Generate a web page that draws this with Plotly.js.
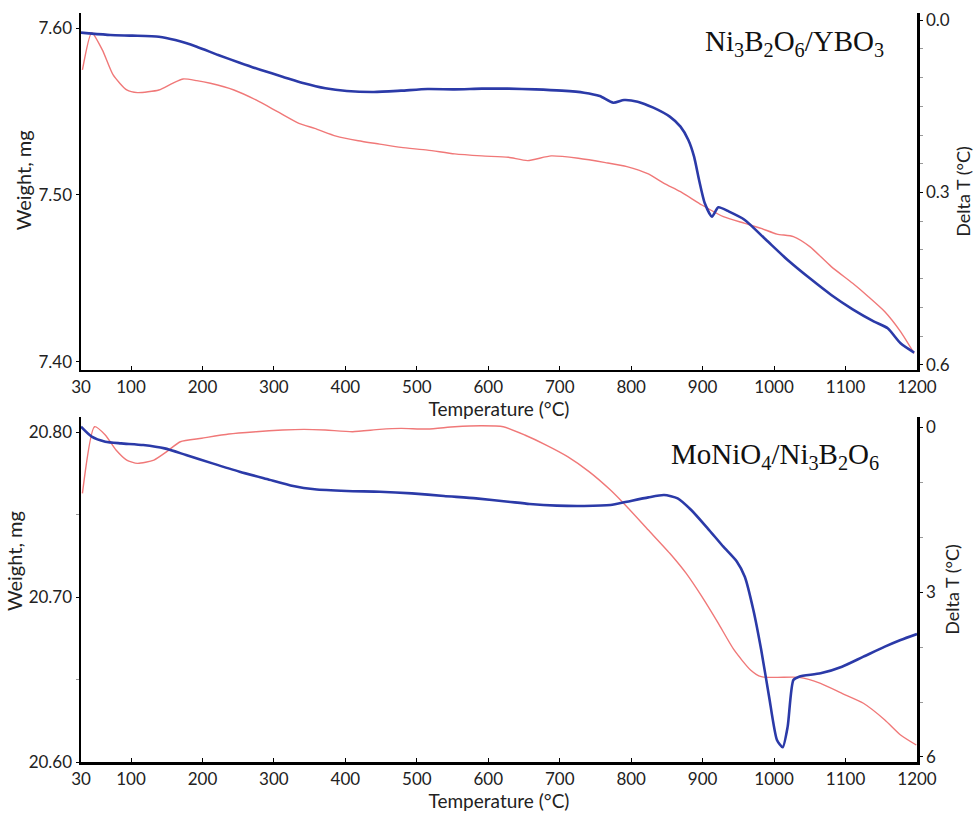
<!DOCTYPE html>
<html>
<head>
<meta charset="utf-8">
<script src="https://cdn.plot.ly/plotly-3.0.1.min.js"></script>
<style>html,body{margin:0;padding:0;background:#fff;}#chart{width:976px;height:815px;}</style>
</head>
<body>
<div id="chart"></div>
<script>
// ---------- Top panel: Ni3B2O6/YBO3 ----------
const topWeightTemp = [32,45,60,75,94,109,139,158,173,192,211,244,275,305,335,357,387,418,448,478,515,553,591,628,655,688,726,764,794,824,846,869,899,929,959,982,1004,1027,1050,1080,1110,1132,1155,1177,1196];
const topWeight = [7.5749,7.5972,7.5868,7.5719,7.5629,7.5613,7.5629,7.5669,7.5695,7.5685,7.5669,7.5629,7.5569,7.5499,7.5429,7.5399,7.5353,7.5325,7.5305,7.5285,7.5269,7.5246,7.5234,7.5226,7.5206,7.5234,7.5220,7.5194,7.5170,7.5126,7.5070,7.5020,7.4940,7.4870,7.4830,7.4800,7.4766,7.4751,7.4691,7.4571,7.4471,7.4391,7.4301,7.4182,7.4052];
const topDeltaTTemp = [30,41,71,102,139,162,192,222,252,282,312,342,372,402,440,478,515,553,591,628,666,703,734,756,775,790,809,831,854,869,880,888,895,903,913,922,937,959,989,1019,1050,1080,1110,1140,1159,1177,1196];
const topDeltaT = [0.0220,0.0232,0.0261,0.0272,0.0290,0.0348,0.0464,0.0609,0.0742,0.0870,0.0985,0.1101,0.1188,0.1235,0.1252,0.1229,0.1200,0.1206,0.1194,0.1194,0.1206,0.1229,0.1264,0.1322,0.1438,0.1391,0.1420,0.1525,0.1681,0.1855,0.2087,0.2377,0.2782,0.3188,0.3420,0.3258,0.3333,0.3478,0.3826,0.4174,0.4493,0.4782,0.5032,0.5246,0.5362,0.5623,0.5785];

// ---------- Bottom panel: MoNiO4/Ni3B2O6 ----------
const botWeightTemp = [32,49,64,79,94,109,132,150,169,199,237,275,312,342,372,410,448,478,515,553,591,621,651,681,711,741,771,794,824,854,877,899,922,944,967,982,1004,1035,1065,1095,1125,1155,1177,1199];
const botWeight = [20.7628,20.8032,20.7982,20.7891,20.7830,20.7810,20.7830,20.7881,20.7941,20.7962,20.7988,20.8002,20.8012,20.8016,20.8012,20.8002,20.8016,20.8022,20.8018,20.8032,20.8038,20.8032,20.7982,20.7921,20.7851,20.7760,20.7648,20.7547,20.7406,20.7265,20.7143,20.7002,20.6840,20.6679,20.6558,20.6517,20.6513,20.6513,20.6477,20.6416,20.6356,20.6255,20.6164,20.6103];
const botDeltaTTemp = [30,45,64,86,117,147,177,214,252,290,327,357,402,448,493,538,583,628,658,696,734,771,794,824,846,865,884,907,929,948,959,971,982,993,1004,1012,1019,1027,1035,1065,1095,1125,1155,1177,1200];
const botDeltaT = [-0.006,0.176,0.267,0.297,0.327,0.388,0.509,0.661,0.812,0.945,1.073,1.133,1.164,1.176,1.206,1.255,1.297,1.358,1.400,1.430,1.436,1.418,1.358,1.279,1.236,1.297,1.509,1.842,2.176,2.448,2.721,3.327,4.055,4.903,5.691,5.824,5.448,4.600,4.539,4.479,4.358,4.176,3.994,3.873,3.764];

// ---------- Axis ticks / labels ----------
const tempTicks = [30,100,200,300,400,500,600,700,800,900,1000,1100,1200];
const topWeightTicks = [7.40,7.50,7.60];
const topDeltaTicks = [0.0,0.3,0.6];
const botWeightTicks = [20.60,20.70,20.80];
const botDeltaTicks = [0,3,6];
const topLabel = 'Ni<sub>3</sub>B<sub>2</sub>O<sub>6</sub>/YBO<sub>3</sub>';
const botLabel = 'MoNiO<sub>4</sub>/Ni<sub>3</sub>B<sub>2</sub>O<sub>6</sub>';
const weightTitle = 'Weight, mg';
const deltaTitle = 'Delta T (°C)';
const tempTitle = 'Temperature (°C)';

const RED = '#f07878';
const BLUE = '#2b3aa8';
const FONT = 'Lato, "Open Sans", sans-serif';

const traces = [
  {x: topWeightTemp, y: topWeight, xaxis:'x2', yaxis:'y3', mode:'lines', line:{color:RED, width:1.4, shape:'spline', smoothing:0.6}, name:'Weight'},
  {x: topDeltaTTemp, y: topDeltaT, xaxis:'x2', yaxis:'y4', mode:'lines', line:{color:BLUE, width:2.6, shape:'spline', smoothing:0.6}, name:'Delta T'},
  {x: botWeightTemp, y: botWeight, xaxis:'x', yaxis:'y', mode:'lines', line:{color:RED, width:1.4, shape:'spline', smoothing:0.6}, name:'Weight'},
  {x: botDeltaTTemp, y: botDeltaT, xaxis:'x', yaxis:'y2', mode:'lines', line:{color:BLUE, width:2.6, shape:'spline', smoothing:0.6}, name:'Delta T'}
];

const axisCommon = {showgrid:false, zeroline:false, showline:true, linecolor:'#000', linewidth:2.5, tickcolor:'#000', tickfont:{family:FONT, size:17, color:'#222'}};

function xAx(anchor){
  return Object.assign({}, axisCommon, {
    anchor: anchor, domain:[0,1], range:[30,1200], tickmode:'array', tickvals: tempTicks,
    ticktext: tempTicks.map(String), ticks:'inside', ticklen:4, tickwidth:1,
    title:{text: tempTitle, font:{family:FONT, size:19, color:'#222'}, standoff:1}
  });
}

const layout = {
  width:976, height:815,
  margin:{l:81, r:59, t:13, b:53},
  paper_bgcolor:'#fff', plot_bgcolor:'#fff',
  showlegend:false,
  font:{family:FONT, size:17, color:'#222'},
  xaxis: xAx('y'),
  xaxis2: xAx('y3'),
  yaxis: Object.assign({}, axisCommon, {
    domain:[0,0.4606], anchor:'x', range:[20.60,20.8091], tickmode:'array', tickvals:botWeightTicks,
    ticktext: botWeightTicks.map(v=>v.toFixed(2)), ticks:'outside', ticklen:3, tickwidth:1,
    minor:{dtick:0.05, tick0:20.6, ticks:'outside', ticklen:3, tickcolor:'#999'}
  }),
  yaxis2: Object.assign({}, axisCommon, {
    overlaying:'y', side:'right', anchor:'x', range:[6.091,-0.182], tickmode:'array', tickvals:botDeltaTicks,
    ticktext: botDeltaTicks.map(String), ticks:'outside', ticklen:3, tickwidth:1,
    minor:{dtick:1, tick0:0, ticks:'outside', ticklen:3, tickcolor:'#999'},
    title:{text: deltaTitle, font:{family:FONT, size:18, color:'#222'}, standoff:12}
  }),
  yaxis3: Object.assign({}, axisCommon, {
    domain:[0.5234,1], anchor:'x2', range:[7.3952,7.6090], tickmode:'array', tickvals:topWeightTicks,
    ticktext: topWeightTicks.map(v=>v.toFixed(2)), ticks:'outside', ticklen:3, tickwidth:1
  }),
  yaxis4: Object.assign({}, axisCommon, {
    overlaying:'y3', side:'right', anchor:'x2', range:[0.6087,-0.0122], tickmode:'array', tickvals:topDeltaTicks,
    ticktext: topDeltaTicks.map(v=>v.toFixed(1)), ticks:'outside', ticklen:3, tickwidth:1,
    minor:{dtick:0.05, tick0:0, ticks:'outside', ticklen:3, tickcolor:'#999'},
    title:{text: deltaTitle, font:{family:FONT, size:18, color:'#222'}, standoff:9}
  }),
  annotations:[
    {text: topLabel, xref:'paper', yref:'paper', x:0.854, y:0.96, xanchor:'center', yanchor:'middle', showarrow:false,
     font:{family:'"Liberation Serif", "DejaVu Serif", serif', size:29, color:'#111'}},
    {text: botLabel, xref:'paper', yref:'paper', x:0.830, y:0.4085, xanchor:'center', yanchor:'middle', showarrow:false,
     font:{family:'"Liberation Serif", "DejaVu Serif", serif', size:29, color:'#111'}},
    {text: weightTitle, xref:'paper', yref:'paper', x:-0.069, y:0.777, xanchor:'center', yanchor:'middle', textangle:-90, showarrow:false,
     font:{family:FONT, size:20, color:'#222'}},
    {text: weightTitle, xref:'paper', yref:'paper', x:-0.080, y:0.2684, xanchor:'center', yanchor:'middle', textangle:-90, showarrow:false,
     font:{family:FONT, size:20, color:'#222'}}
  ]
};

Plotly.newPlot('chart', traces, layout, {displayModeBar:false, staticPlot:true});
</script>
</body>
</html>
